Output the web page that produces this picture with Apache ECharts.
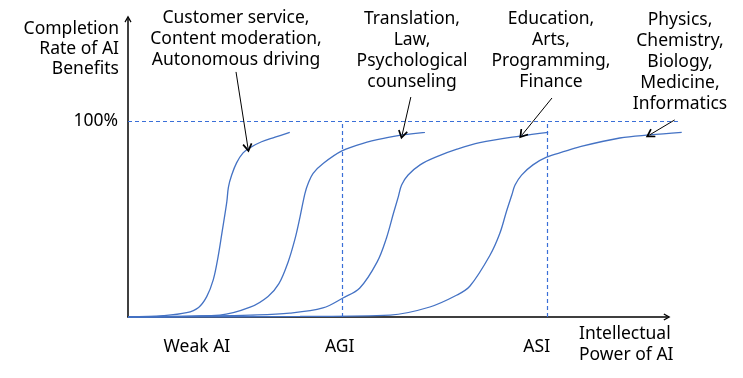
<!DOCTYPE html>
<html>
<head>
<meta charset="utf-8">
<script src="https://cdn.jsdelivr.net/npm/echarts@6/dist/echarts.min.js"></script>
<style>
  html, body { margin: 0; padding: 0; background: #fff; }
  #chart { width: 743px; height: 378px; }
</style>
</head>
<body>
<div id="chart"></div>
<script>
// x = intellectual power (0..100), y = completion rate (%)
var weakCurve = [[0,0],[6.5,0.7],[10.8,2.2],[13.0,4.9],[14.5,10.4],[15.7,18.9],[16.6,30.8],[17.3,42.8],[18.2,58.7],[18.5,66.3],[19.1,72.4],[20.0,78.6],[21.2,83.7],[22.5,86.4],[24.6,89.4],[27.1,91.7],[29.8,94.2]];
var agiCurve = [[0,0],[16.9,1.0],[22.5,5.0],[25.8,10.5],[27.8,17.0],[29.5,28.1],[30.8,40.2],[31.7,51.2],[32.6,63.1],[33.2,68.2],[34.1,73.3],[36.0,78.4],[39.4,84.7],[43.3,88.6],[48.2,91.7],[50.6,92.9],[54.7,94.2]];
var eduCurve = [[0,0],[13.3,0.5],[22.5,1.0],[29.8,2.0],[35.9,4.6],[39.6,9.7],[42.7,14.8],[45.9,28.1],[47.6,40.2],[48.9,52.9],[49.8,61.4],[50.4,67.3],[51.6,72.4],[53.8,77.6],[56.9,81.8],[60.6,85.6],[64.8,88.9],[72.2,92.3],[77.4,94.2]];
var sciCurve = [[0,0],[31.7,0.3],[48.3,1.0],[55.6,5.1],[60.6,11.2],[63.0,15.8],[66.7,31.6],[68.5,42.7],[69.7,53.7],[70.7,62.2],[71.3,67.3],[72.5,72.4],[74.6,77.6],[77.1,81.5],[80.2,84.3],[83.3,86.9],[90.6,91.3],[96.1,92.9],[102.0,94.2]];

var stageValues = [12.7, 39.0, 75.3];
var stageLabels = ['Weak AI', 'AGI', 'ASI'];
var agiX = 39.4;
var asiX = 77.2;
var fullX = 101.3;

var noteTexts = [
  'Customer service,\nContent moderation,\nAutonomous driving',
  'Translation,\nLaw,\nPsychological\ncounseling',
  'Education,\nArts,\nProgramming,\nFinance',
  'Physics,\nChemistry,\nBiology,\nMedicine,\nInformatics'
];
// arrow [from, to] per note
var noteArrows = [
  [[19.9, 125.0], [22.1, 86.2]],
  [[52.1, 112.2], [50.5, 92.9]],
  [[78.1, 111.7], [72.6, 92.9]],
  [[100.7, 100.5], [96.1, 92.9]]
];

var FONT = '"Noto Sans", sans-serif';
var FS = 17.5;
var blue = '#4472c4';
var dashBlue = '#3a6fd8';
// open chevron head, points up before rotation
var chevron = 'path://M5,0 L10,9 L8.6,10 L5,3.8 L1.4,10 L0,9 Z';

var chart = echarts.init(document.getElementById('chart'));

function curve(data, extra) {
  var s = {
    type: 'line',
    xAxisIndex: 1,
    yAxisIndex: 1,
    data: data,
    smooth: 0.35,
    showSymbol: false,
    clip: false,
    silent: true,
    lineStyle: { color: blue, width: 1.3 }
  };
  return Object.assign(s, extra || {});
}

function txt(x, y, text, align, lh) {
  return {
    type: 'text', x: x, y: y, silent: true,
    style: { text: text, fontSize: FS, fontFamily: FONT, fill: '#000',
      align: align, textAlign: align, verticalAlign: 'top', textVerticalAlign: 'top', lineHeight: lh || 21 }
  };
}

var axisArrowLine = { show: true, symbol: ['none', chevron], symbolSize: [9, 7], lineStyle: { color: '#000', width: 1.5 } };

var option = {
  animation: false,
  // grid 0 carries the visible axes; grid 1 (same scale, wider) carries the marks
  grid: [
    { left: 128, right: 76, top: 19, bottom: 61 },
    { left: 128, right: 45, top: 19, bottom: 61 }
  ],
  xAxis: [{
    type: 'value',
    gridIndex: 0,
    min: 0,
    max: 99.3,
    axisLine: axisArrowLine,
    axisTick: { show: false },
    splitLine: { show: false },
    axisLabel: {
      customValues: stageValues,
      margin: 21,
      fontSize: FS, fontFamily: FONT, color: '#000',
      formatter: function (v) {
        var i = stageValues.indexOf(v);
        return i >= 0 ? stageLabels[i] : '';
      }
    }
  }, {
    type: 'value',
    gridIndex: 1,
    min: 0,
    max: 105,
    show: false
  }],
  yAxis: [{
    type: 'value',
    gridIndex: 0,
    min: 0,
    max: 152,
    interval: 100,
    axisLine: axisArrowLine,
    axisTick: { show: false },
    splitLine: { show: false },
    axisLabel: {
      margin: 10,
      fontSize: FS, fontFamily: FONT, color: '#000',
      formatter: function (v) { return v === 100 ? '100%' : ''; }
    }
  }, {
    type: 'value',
    gridIndex: 1,
    min: 0,
    max: 152,
    show: false
  }],
  graphic: [
    txt(236, 8, noteTexts[0], 'center'),
    txt(412, 9, noteTexts[1], 'center'),
    txt(551, 9, noteTexts[2], 'center'),
    txt(680, 10, noteTexts[3], 'center'),
    txt(119, 19, 'Completion\nRate of AI\nBenefits', 'right', 20),
    txt(579, 324, 'Intellectual\nPower of AI', 'left')
  ],
  series: [
    curve(weakCurve, {
      markLine: {
        silent: true,
        symbol: 'none',
        label: { show: false },
        lineStyle: { color: dashBlue, type: [4, 3], width: 1.2 },
        data: [
          [{ coord: [0, 100] }, { coord: [fullX, 100] }],
          [{ coord: [agiX, 0] }, { coord: [agiX, 100] }],
          [{ coord: [asiX, 0] }, { coord: [asiX, 100] }]
        ]
      }
    }),
    curve(agiCurve),
    curve(eduCurve),
    curve(sciCurve, {
      markLine: {
        silent: true,
        symbol: ['none', chevron],
        symbolSize: [10, 9],
        label: { show: false },
        lineStyle: { color: '#000', type: 'solid', width: 1 },
        data: noteArrows.map(function (a) {
          return [{ coord: a[0] }, { coord: a[1] }];
        })
      }
    })
  ]
};

chart.setOption(option);
</script>
</body>
</html>
